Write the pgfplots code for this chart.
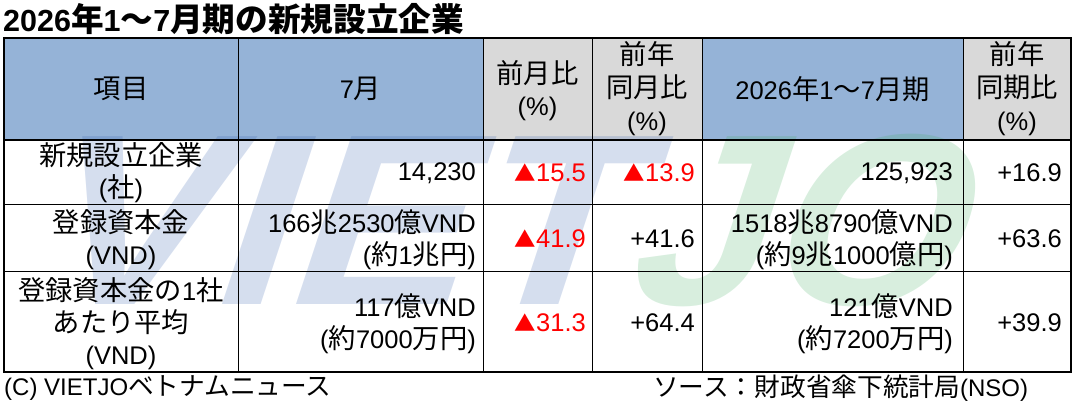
\documentclass[border=0pt]{standalone}
\usepackage{fontspec}
\setmainfont{Liberation Sans}
\newfontfamily\jp[Scale=1.07]{Noto Sans CJK JP}
\usepackage{pgfplots}
\pgfplotsset{compat=1.18}
\newcommand\J[1]{{\jp #1}}
\newcommand\tri{{\jp\fontsize{20}{20}\selectfont ▲}}
\definecolor{hdrblue}{HTML}{95B3D7}
\definecolor{hdrgray}{HTML}{D9D9D9}
\definecolor{vjblue}{HTML}{2E5AAC}
\definecolor{vjgreen}{HTML}{3AAA5A}
\definecolor{negred}{HTML}{FF0000}
\begin{document}
\begin{tikzpicture}
\begin{axis}[scale only axis, width=1074pt, height=411pt,
  xmin=0, xmax=1074, ymin=0, ymax=411, y dir=reverse,
  hide axis, clip=false]
\path (axis cs:0,0) rectangle (axis cs:1074,411);
% header fills
\fill[hdrblue] (axis cs:4,38) rectangle (axis cs:483,140);
\fill[hdrgray] (axis cs:483,38) rectangle (axis cs:702,140);
\fill[hdrblue] (axis cs:702,38) rectangle (axis cs:963,140);
\fill[hdrgray] (axis cs:963,38) rectangle (axis cs:1071,140);
% watermark
\node[overlay, anchor=base west, inner sep=0pt, opacity=0.2, xslant=0.33, xscale=1.1, transform shape,
  font=\fontsize{244}{244}\selectfont\bfseries, text=vjblue] at (axis cs:25,305) {VIET};
\node[overlay, anchor=base west, inner sep=0pt, opacity=0.2, xslant=0.33, xscale=1.02, transform shape,
  font=\fontsize{244}{244}\selectfont\bfseries, text=vjgreen] at (axis cs:620,305) {JO};
% grid lines
\draw[line width=1pt] (axis cs:238,38) -- (axis cs:238,372);
\draw[line width=1pt] (axis cs:483,38) -- (axis cs:483,372);
\draw[line width=1pt] (axis cs:592,38) -- (axis cs:592,372);
\draw[line width=1pt] (axis cs:702,38) -- (axis cs:702,372);
\draw[line width=1pt] (axis cs:963,38) -- (axis cs:963,372);
\draw[line width=1pt] (axis cs:4,205) -- (axis cs:1071,205);
\draw[line width=1pt] (axis cs:4,272) -- (axis cs:1071,272);
\draw[line width=2.5pt] (axis cs:4,140) -- (axis cs:1071,140);
\draw[line width=2.5pt] (axis cs:4,38) rectangle (axis cs:1071,372);
% title
\node[anchor=west, inner sep=0pt, font=\fontsize{30.5}{34}\selectfont\bfseries] at (axis cs:3,19)
  {2026\J{年}1\J{〜}7\J{月期の新規設立企業}};
\tikzset{cell/.style={inner sep=0pt, font=\fontsize{25.5}{32}\selectfont}}
% header texts
\node[cell, align=center] at (axis cs:121,89) {\J{項目}};
\node[cell, align=center] at (axis cs:360.5,89) {7\J{月}};
\node[cell, align=center] at (axis cs:537.5,91) {\J{前月比}\\(\%)};
\node[cell, align=center, font=\fontsize{25.5}{33}\selectfont] at (axis cs:647,89) {\J{前年}\\\J{同月比}\\(\%)};
\node[cell, align=center] at (axis cs:832.5,89) {2026\J{年}1\J{〜}7\J{月期}};
\node[cell, align=center, font=\fontsize{25.5}{33}\selectfont] at (axis cs:1017,89) {\J{前年}\\\J{同期比}\\(\%)};
% row 1
\node[cell, align=center] at (axis cs:121,173) {\J{新規設立企業}\\(\J{社})};
\node[cell, anchor=east] at (axis cs:476,173) {14,230};
\node[cell, anchor=east, text=negred] at (axis cs:586,173) {\tri15.5};
\node[cell, anchor=east, text=negred] at (axis cs:695,173) {\tri13.9};
\node[cell, anchor=east] at (axis cs:953,173) {125,923};
\node[cell, anchor=east] at (axis cs:1062,173) {+16.9};
% row 2
\node[cell, align=center] at (axis cs:121,240) {\J{登録資本金}\\(VND)};
\node[cell, align=right, anchor=east] at (axis cs:476,240) {166\J{兆}2530\J{億}VND\\(\J{約}1\J{兆円})};
\node[cell, anchor=east, text=negred] at (axis cs:586,239) {\tri41.9};
\node[cell, anchor=east] at (axis cs:695,239) {+41.6};
\node[cell, align=right, anchor=east] at (axis cs:953,240) {1518\J{兆}8790\J{億}VND\\(\J{約}9\J{兆}1000\J{億円})};
\node[cell, anchor=east] at (axis cs:1062,239) {+63.6};
% row 3
\node[cell, align=center] at (axis cs:121,324) {\J{登録資本金の}1\J{社}\\\J{あたり平均}\\(VND)};
\node[cell, align=right, anchor=east] at (axis cs:476,324) {117\J{億}VND\\(\J{約}7000\J{万円})};
\node[cell, anchor=east, text=negred] at (axis cs:586,323) {\tri31.3};
\node[cell, anchor=east] at (axis cs:695,323) {+64.4};
\node[cell, align=right, anchor=east] at (axis cs:953,324) {121\J{億}VND\\(\J{約}7200\J{万円})};
\node[cell, anchor=east] at (axis cs:1062,323) {+39.9};
% footer
\node[cell, anchor=west, font=\fontsize{24}{28}\selectfont] at (axis cs:4,388) {(C) VIETJO\J{ベトナムニュース}};
\node[cell, anchor=west, font=\fontsize{24}{28}\selectfont] at (axis cs:653,388) {\J{ソース：財政省傘下統計局}(NSO)};
\end{axis}
\end{tikzpicture}
\end{document}
